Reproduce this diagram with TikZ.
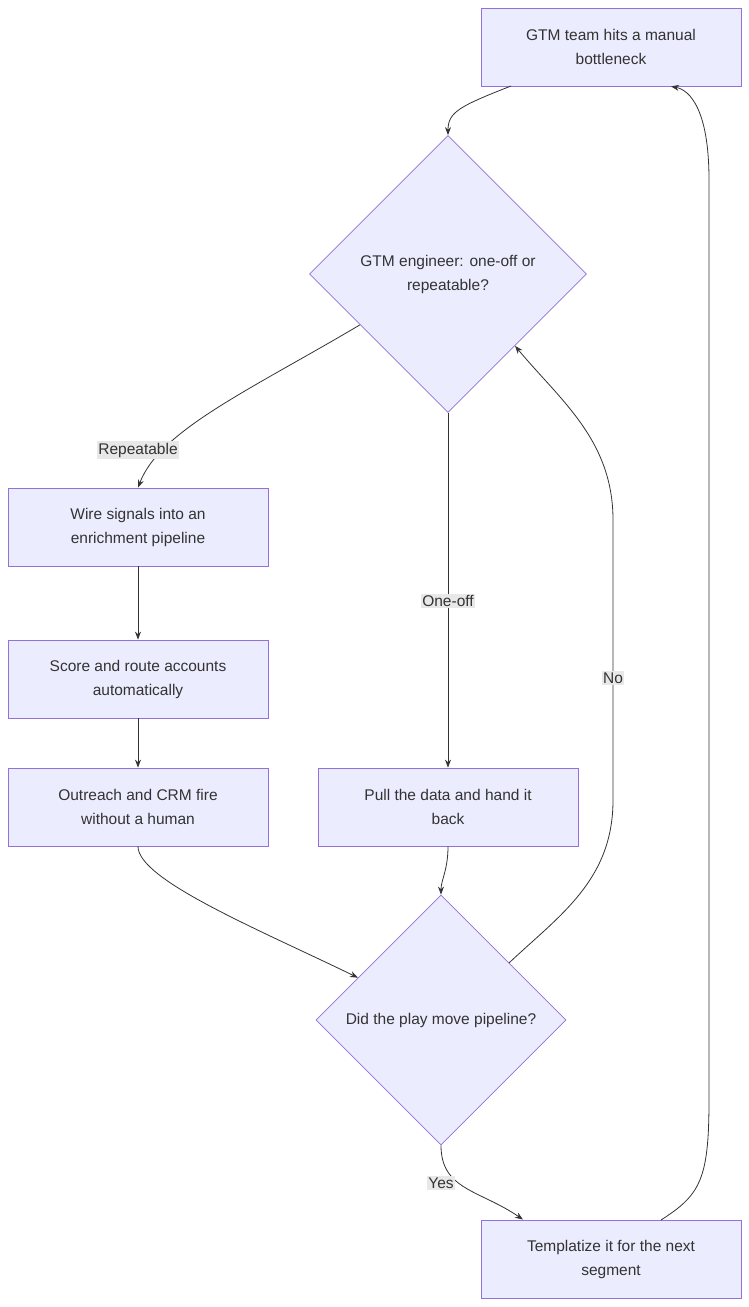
\documentclass[tikz,border=0pt]{standalone}
\usepackage{fontspec}
\setmainfont{Liberation Sans}
\usetikzlibrary{shapes.geometric,arrows.meta,calc}
\definecolor{nfill}{HTML}{ECECFF}
\definecolor{nline}{HTML}{9370DB}
\definecolor{txt}{HTML}{333333}
\definecolor{lbl}{HTML}{E8E8E8}
\begin{document}
\begin{tikzpicture}[x=1pt,y=-1pt,
  font=\fontsize{15.5}{24}\selectfont, text=txt,
  box/.style={draw=nline,fill=nfill,line width=0.8pt,minimum width=260,minimum height=78,align=center,inner sep=0},
  dia/.style={diamond,draw=nline,fill=nfill,line width=0.8pt,inner sep=0,align=center},
  conn/.style={draw=txt,line width=0.8pt,-{Stealth[length=8pt,width=6pt]}},
  elab/.style={fill=lbl,inner sep=1.5pt,text=txt}]
\useasboundingbox (0,0) rectangle (749,1307);
\node[box] (top) at (611,47) {GTM team hits a manual\\bottleneck};
\node[dia,minimum width=277,minimum height=277] (d1) at (448,274) {GTM engineer: one-off or\\repeatable?};
\node[box] (wire) at (138,527) {Wire signals into an\\enrichment pipeline};
\node[box] (score) at (138,679) {Score and route accounts\\automatically};
\node[box] (out) at (138,807) {Outreach and CRM fire\\without a human};
\node[box] (pull) at (448,807) {Pull the data and hand it\\back};
\node[dia,minimum width=250,minimum height=250] (d2) at (441,1020) {Did the play move pipeline?};
\node[box] (tmpl) at (611,1259) {Templatize it for the next\\segment};

\coordinate (a1) at (511,86);
\draw[conn] (a1) .. controls (460,106) and (448,112) .. (d1.north);
\draw[conn] (d1.210) .. controls (250,390) and (160,430) .. (wire.north);
\node[elab] (lr) at (138,450) {Repeatable};
\draw[conn] (d1.south) -- (pull.north) node[elab,pos=0.53] (lo) {One-off};
\draw[conn] (wire) -- (score);
\draw[conn] (score) -- (out);
\draw[conn] (out.south) .. controls (138,880) and (260,930) .. (d2.153);
\draw[conn] (pull.south) .. controls (448,870) and (441,880) .. (d2.north);
\draw[conn] (d2.40.5) .. controls (560,915) and (613,880) .. (613,800) -- (613,520) .. controls (613,440) and (560,400) .. (d1.313);
\node[elab] (ln) at (613,678) {No};
\draw[conn] (d2.south) .. controls (441,1190) and (480,1190) .. (tmpl.north west -| 523,0);
\node[elab] (ly) at (441,1183) {Yes};
\coordinate (t1) at (661,1220);
\draw[conn] (t1) .. controls (700,1195) and (709,1180) .. (709,1100) -- (709,180) .. controls (709,110) and (690,90) .. (top.south east -| 671,0);
\end{tikzpicture}
\end{document}
